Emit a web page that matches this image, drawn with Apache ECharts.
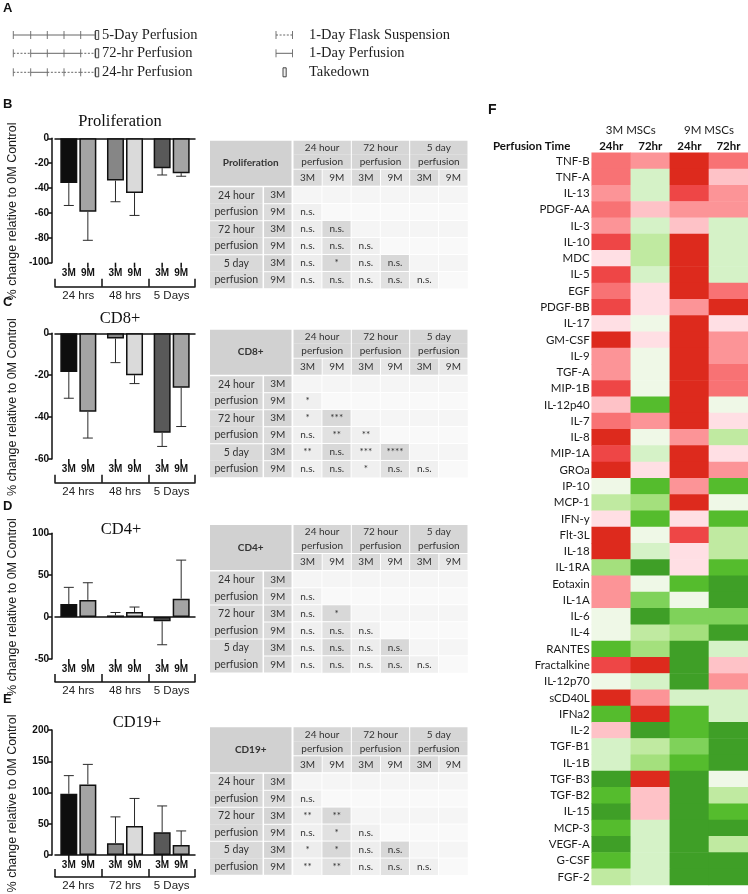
<!DOCTYPE html>
<html>
<head>
<meta charset="utf-8">
<title>Perfusion figure</title>
<script src="https://cdn.jsdelivr.net/npm/echarts@6/dist/echarts.min.js"></script>
<style>
html,body{margin:0;padding:0;background:#ffffff;}
#chart{width:748px;height:894px;}
</style>
</head>
<body>
<div id="chart"></div>
<script>
// ---------------- DATA ----------------
const groupLabels48 = ['24 hrs', '48 hrs', '5 Days'];
const groupLabels72 = ['24 hrs', '72 hrs', '5 Days'];
const ageLabels = ['3M', '9M'];

const prolif3M   = [-36, -34, -24];
const prolif3MSD = [18, 17, 5.5];
const prolif9M   = [-59, -44, -28];
const prolif9MSD = [23, 18, 2.5];

const cd8_3M   = [-18.5, -2.5, -47.5];
const cd8_3MSD = [12.5, 11.5, 6.5];
const cd8_9M   = [-37.5, -20, -26];
const cd8_9MSD = [12.5, 4, 18.5];

const cd4_3M   = [15.5, 2, -5];
const cd4_3MSD = [20, 3.5, 28];
const cd4_9M   = [20.5, 6, 22];
const cd4_9MSD = [20.5, 6, 46];

const cd19_3M   = [98, 19, 36.5];
const cd19_3MSD = [29, 42, 42];
const cd19_9M   = [113, 46.5, 16];
const cd19_9MSD = [32, 44, 22.5];

// significance tables (rows/cols: 24h-3M, 24h-9M, 72h-3M, 72h-9M, 5d-3M, 5d-9M)
const tableRowLabels = ['3M', '9M', '3M', '9M', '3M', '9M'];
const tableGroupLabels = ['24 hour\nperfusion', '72 hour\nperfusion', '5 day\nperfusion'];
const sigProlif = [
  ['', '', '', '', '', ''],
  ['n.s.', '', '', '', '', ''],
  ['n.s.', 'n.s.', '', '', '', ''],
  ['n.s.', 'n.s.', 'n.s.', '', '', ''],
  ['n.s.', '*', 'n.s.', 'n.s.', '', ''],
  ['n.s.', 'n.s.', 'n.s.', 'n.s.', 'n.s.', '']
];
const sigCD8 = [
  ['', '', '', '', '', ''],
  ['*', '', '', '', '', ''],
  ['*', '***', '', '', '', ''],
  ['n.s.', '**', '**', '', '', ''],
  ['**', 'n.s.', '***', '****', '', ''],
  ['n.s.', 'n.s.', '*', 'n.s.', 'n.s.', '']
];
const sigCD4 = [
  ['', '', '', '', '', ''],
  ['n.s.', '', '', '', '', ''],
  ['n.s.', '*', '', '', '', ''],
  ['n.s.', 'n.s.', 'n.s.', '', '', ''],
  ['n.s.', 'n.s.', 'n.s.', 'n.s.', '', ''],
  ['n.s.', 'n.s.', 'n.s.', 'n.s.', 'n.s.', '']
];
const sigCD19 = [
  ['', '', '', '', '', ''],
  ['n.s.', '', '', '', '', ''],
  ['**', '**', '', '', '', ''],
  ['n.s.', '*', 'n.s.', '', '', ''],
  ['*', '*', 'n.s.', 'n.s.', '', ''],
  ['**', '**', 'n.s.', 'n.s.', 'n.s.', '']
];

// heatmap F (levels: +6 strong red ... 0 neutral ... -6 strong green)
const cytokines = ['TNF-B','TNF-A','IL-13','PDGF-AA','IL-3','IL-10','MDC','IL-5','EGF','PDGF-BB',
  'IL-17','GM-CSF','IL-9','TGF-A','MIP-1B','IL-12p40','IL-7','IL-8','MIP-1A','GROa',
  'IP-10','MCP-1','IFN-y','Flt-3L','IL-18','IL-1RA','Eotaxin','IL-1A','IL-6','IL-4',
  'RANTES','Fractalkine','IL-12p70','sCD40L','IFNa2','IL-2','TGF-B1','IL-1B','TGF-B3','TGF-B2',
  'IL-15','MCP-3','VEGF-A','G-CSF','FGF-2'];
const hm3M24 = [4,4,3,4,3,5,1,5,4,5, 1,6,3,3,5,2,4,6,5,6, 0,-2,1,6,6,-3,3,3,0,0, -5,5,0,6,-5,2,-1,-1,-6,-5, -6,-5,-6,-5,-2];
const hm3M72 = [3,-1,-1,2,-1,-2,-2,-1,1,1, 0,1,0,0,0,-5,3,0,-1,1, -5,-3,-5,0,-1,-6,0,-4,-6,-2, -3,6,-1,3,6,-6,-2,-3,6,2, 2,-1,-1,-1,-1];
const hm9M24 = [6,6,5,3,2,6,6,6,6,3, 6,6,6,6,6,6,6,3,6,6, 3,6,1,5,1,1,-5,0,-4,-3, -6,-6,-6,-1,-5,-5,-4,-5,-6,-6, -6,-6,-6,-6,-6];
const hm9M72 = [4,2,3,3,-1,-1,-1,-1,4,6, 1,3,3,4,4,0,1,-2,1,3, -5,0,-5,-2,-2,-5,-6,-6,-4,-6, -1,2,3,-1,-1,-6,-6,-6,0,-2, -5,-6,-2,-6,-6];
const hmColLabels = ['24hr', '72hr', '24hr', '72hr'];
const hmGroupLabels = ['3M MSCs', '9M MSCs'];

// panel A schematic
const scheduleLabels = ['5-Day Perfusion', '72-hr Perfusion', '24-hr Perfusion'];
const scheduleSegments = [['P','P','P','P','P'], ['F','P','P','P','F'], ['F','P','F','F','F']];
const legendLabels = ['1-Day Flask Suspension', '1-Day Perfusion', 'Takedown'];

// ---------------- STYLE ----------------
const SANS = '"Liberation Sans", Arial, sans-serif';
const CAL = 'Lato, "Open Sans", sans-serif';
const SERIF = '"Liberation Serif", "DejaVu Serif", serif';
const bar3MColors = ['#0e0e0e', '#868686', '#595959'];
const bar9MColors = ['#a4a4a4', '#dadada', '#a4a4a4'];
const hmPalette = {6:'#dd2a1d',5:'#ee4646',4:'#f87274',3:'#fc9497',2:'#fec2c7',1:'#ffdfe4',0:'#eff8e7',
  '-1':'#d5f2c7','-2':'#c0eaa1','-3':'#a4e07d','-4':'#7fd25a','-5':'#55bc2d','-6':'#3f9f27'};
const tableShade = {0:'#f5f5f5',1:'#ededed',2:'#d8d8d8',3:'#e1e1e1',4:'#f0f0f0',5:'#f9f9f9'};
const BAR_W = 17, BAR_GAP_RATIO = 0.12, BAR_OFF = (BAR_W + BAR_W * BAR_GAP_RATIO) / 2;

// ---------------- BUILD ----------------
const grid = [], xAxis = [], yAxis = [], series = [], graphic = [];
function addGrid(g) { grid.push(Object.assign({outerBoundsMode: 'none', containLabel: false}, g)); return grid.length - 1; }
function push(arr, o) { arr.push(o); return arr.length - 1; }

const panels = [
  {letter:'B', letterY:104, title:'Proliferation', titleX:120, titleY:122, groups:groupLabels48,
   m3:prolif3M, s3:prolif3MSD, m9:prolif9M, s9:prolif9MSD, min:-100, max:0, interval:20, top:138.3, bottom:262.7, brk:24},
  {letter:'C', letterY:302, title:'CD8+', titleX:120, titleY:318.5, groups:groupLabels48,
   m3:cd8_3M, s3:cd8_3MSD, m9:cd8_9M, s9:cd8_9MSD, min:-60, max:0, interval:20, top:333.3, bottom:459, brk:23.7},
  {letter:'D', letterY:506, title:'CD4+', titleX:121, titleY:530, groups:groupLabels48,
   m3:cd4_3M, s3:cd4_3MSD, m9:cd4_9M, s9:cd4_9MSD, min:-50, max:100, interval:50, top:533.3, bottom:659, brk:23},
  {letter:'E', letterY:699, title:'CD19+', titleX:137, titleY:723, groups:groupLabels72,
   m3:cd19_3M, s3:cd19_3MSD, m9:cd19_9M, s9:cd19_9MSD, min:0, max:200, interval:50, top:730, bottom:855, brk:22}
];

function errRender(yMin) {
  return function (params, api) {
    const cat = api.value(0), m = api.value(1), e = api.value(2), side = api.value(3);
    const p0 = api.coord([cat, m]), p1 = api.coord([cat, e]), pb = api.coord([cat, yMin]);
    const x = p0[0] + side * BAR_OFF;
    const ls = {stroke: '#2a2a2a', lineWidth: 1};
    return {type: 'group', children: [
      {type: 'line', shape: {x1: x, y1: p0[1], x2: x, y2: p1[1]}, style: ls},
      {type: 'line', shape: {x1: x - 5, y1: p1[1], x2: x + 5, y2: p1[1]}, style: ls},
      {type: 'line', shape: {x1: x, y1: pb[1], x2: x, y2: pb[1] + 5}, style: {stroke: '#111', lineWidth: 1.5}}
    ]};
  };
}

panels.forEach(p => {
  const rect = {left: 55, width: 140, top: p.top, height: p.bottom - p.top};
  const g = addGrid(rect);
  const g2 = addGrid(rect);
  const yi = push(yAxis, {
    type: 'value', gridIndex: g, min: p.min, max: p.max, interval: p.interval, offset: 3,
    axisLine: {show: true, lineStyle: {color: '#111', width: 1.5}},
    axisTick: {show: true, length: 4, lineStyle: {color: '#111', width: 1.5}},
    axisLabel: {color: '#111', fontWeight: 'bold', fontSize: 10, fontFamily: SANS, margin: 3},
    splitLine: {show: false},
    name: '% change relative to 0M Control', nameLocation: 'middle', nameGap: 33, nameRotate: 90,
    nameMoveOverlap: false,
    nameTextStyle: {fontSize: 12.5, fontFamily: SANS, color: '#1a1a1a', padding: [0, 22, 0, 0]}
  });
  push(yAxis, {type: 'value', gridIndex: g2, show: false, min: 0, max: 1});
  const xZero = push(xAxis, {
    type: 'category', gridIndex: g, data: p.groups, position: 'top',
    axisLine: {show: true, onZero: true, lineStyle: {color: '#111', width: 1.5}},
    axisTick: {show: false}, axisLabel: {show: false}, splitLine: {show: false}
  });
  push(xAxis, {
    type: 'category', gridIndex: g, data: p.groups, position: 'bottom',
    axisLine: {show: false, onZero: false}, axisTick: {show: false}, splitLine: {show: false},
    axisLabel: {interval: 0, margin: 10.5, verticalAlign: 'middle', align: 'center',
      formatter: () => '{a|' + ageLabels[0] + '}{a|' + ageLabels[1] + '}',
      rich: {a: {width: BAR_OFF * 2, align: 'center', fontWeight: 'bold', fontSize: 10, fontFamily: SANS, color: '#111'}}}
  });
  push(xAxis, {
    type: 'category', gridIndex: g2, data: p.groups, position: 'bottom', offset: p.brk,
    axisLine: {show: true, onZero: false, lineStyle: {color: '#111', width: 1.5}},
    axisTick: {show: true, inside: true, length: 8, interval: 0, alignWithLabel: false, lineStyle: {color: '#111', width: 1.5}},
    axisLabel: {interval: 0, margin: 3, fontSize: 11.5, fontFamily: SANS, color: '#222'},
    splitLine: {show: false}
  });
  const common = {type: 'bar', xAxisIndex: xZero, yAxisIndex: yi, barWidth: BAR_W, barGap: (BAR_GAP_RATIO * 100) + '%',
    itemStyle: {borderColor: '#111', borderWidth: 1.5}, silent: true, emphasis: {disabled: true}};
  series.push(Object.assign({}, common, {name: '3M', data: p.m3.map((v, i) => ({value: v, itemStyle: {color: bar3MColors[i]}}))}));
  series.push(Object.assign({}, common, {name: '9M', data: p.m9.map((v, i) => ({value: v, itemStyle: {color: bar9MColors[i]}}))}));
  const errData = p.m3.map((v, i) => [i, v, v + Math.sign(v) * p.s3[i], -1])
    .concat(p.m9.map((v, i) => [i, v, v + Math.sign(v) * p.s9[i], 1]));
  series.push({type: 'custom', xAxisIndex: xZero, yAxisIndex: yi, clip: false, silent: true, z: 3,
    encode: {x: 0, y: 1}, data: errData, renderItem: errRender(p.min)});
  graphic.push({type: 'text', x: 3, y: p.letterY, style: {text: p.letter, font: 'bold 13px ' + SANS, fill: '#111', verticalAlign: 'middle'}});
  graphic.push({type: 'text', x: p.titleX, y: p.titleY, style: {text: p.title, font: '16.5px ' + SERIF, fill: '#111', align: 'center', verticalAlign: 'middle'}});
});

// ---- significance tables ----
const tables = [
  {name: 'Proliferation', sig: sigProlif, dataTop: 186.7},
  {name: 'CD8+', sig: sigCD8, dataTop: 375.7},
  {name: 'CD4+', sig: sigCD4, dataTop: 571},
  {name: 'CD19+', sig: sigCD19, dataTop: 773.3}
];
const cellFont = {fontFamily: CAL, fontSize: 10, color: '#333333'};
function shadeCode(r, c, filled) {
  if (!filled) return r % 2 ? 5 : 0;
  if (c % 2) return r % 2 ? 3 : 2;
  return r % 2 ? 4 : 1;
}
const tableSeries = [];
tables.forEach(t => {
  const rect = {left: 293, width: 175, top: t.dataTop, height: 102};
  const g = addGrid(rect), g2 = addGrid(rect);
  const keys6 = tableRowLabels.map((_, i) => 'k' + i);
  const keys3 = tableGroupLabels.map((_, i) => 'g' + i);
  const xi = push(xAxis, {type: 'category', gridIndex: g, position: 'top', data: keys6,
    axisLine: {show: false}, axisTick: {show: false}, splitLine: {show: false},
    axisLabel: {interval: 0, margin: 9, align: 'center', verticalAlign: 'middle',
      formatter: (v, i) => '{' + (i % 2 ? 'b' : 'a') + '|' + tableRowLabels[i] + '}',
      rich: {a: Object.assign({width: 28.2, height: 16, lineHeight: 16, align: 'center', verticalAlign: 'middle', backgroundColor: '#d9d9d9'}, cellFont),
             b: Object.assign({width: 28.2, height: 16, lineHeight: 16, align: 'center', verticalAlign: 'middle', backgroundColor: '#e7e7e7'}, cellFont)}}});
  const yi = push(yAxis, {type: 'category', gridIndex: g, inverse: true, data: keys6,
    axisLine: {show: false}, axisTick: {show: false}, splitLine: {show: false},
    axisLabel: {interval: 0, margin: 15.2, align: 'center', verticalAlign: 'middle',
      formatter: (v, i) => '{' + (i % 2 ? 'b' : 'a') + '|' + tableRowLabels[i] + '}',
      rich: {a: Object.assign({width: 27.5, height: 16, lineHeight: 16, align: 'center', verticalAlign: 'middle', backgroundColor: '#d5d5d5'}, cellFont),
             b: Object.assign({width: 27.5, height: 16, lineHeight: 16, align: 'center', verticalAlign: 'middle', backgroundColor: '#dcdcdc'}, cellFont)}}});
  push(xAxis, {type: 'category', gridIndex: g2, position: 'top', data: keys3,
    axisLine: {show: false}, axisTick: {show: false}, splitLine: {show: false},
    axisLabel: {interval: 0, margin: 32, align: 'center', verticalAlign: 'middle',
      formatter: (v, i) => tableGroupLabels[i].split('\n').map(s => '{h|' + s + '}').join('\n'),
      rich: {h: Object.assign({width: 57.3, height: 14, lineHeight: 14, align: 'center', verticalAlign: 'middle', backgroundColor: '#d6d6d6'}, cellFont)}}});
  push(yAxis, {type: 'category', gridIndex: g2, inverse: true, data: keys3,
    axisLine: {show: false}, axisTick: {show: false}, splitLine: {show: false},
    axisLabel: {interval: 0, margin: 56.7, align: 'center', verticalAlign: 'middle',
      formatter: (v, i) => tableGroupLabels[i].split('\n').map(s => '{h|' + s + '}').join('\n'),
      rich: {h: Object.assign({width: 52.5, height: 16.5, lineHeight: 16.5, align: 'center', verticalAlign: 'middle', backgroundColor: '#d9d9d9'}, cellFont, {fontSize: 10.5})}}});
  const data = [];
  for (let r = 0; r < 6; r++) for (let c = 0; c < 6; c++) data.push([c, r, shadeCode(r, c, t.sig[r][c] !== '')]);
  tableSeries.push(series.length);
  series.push({type: 'heatmap', xAxisIndex: xi, yAxisIndex: yi, data: data, silent: true, emphasis: {disabled: true},
    itemStyle: {borderColor: '#ffffff', borderWidth: 1},
    label: Object.assign({show: true, formatter: pp => t.sig[pp.data[1]][pp.data[0]]}, cellFont)});
  graphic.push({type: 'rect', shape: {x: 210, y: t.dataTop - 46, width: 81.5, height: 45}, style: {fill: '#d1d1d1'}});
  graphic.push({type: 'text', x: 250.7, y: t.dataTop - 23.5, style: {text: t.name, font: 'bold 10px ' + CAL, fill: '#333', align: 'center', verticalAlign: 'middle'}});
});

// ---- heatmap F ----
const hmRect = {left: 591.7, top: 152.7, width: 156.3, height: 732.3};
const gH = addGrid(hmRect), gH2 = addGrid(hmRect);
const hxi = push(xAxis, {type: 'category', gridIndex: gH, position: 'top', data: hmColLabels.map((_, i) => 'c' + i),
  axisLine: {show: false}, axisTick: {show: false}, splitLine: {show: false},
  axisLabel: {interval: 0, margin: 6.7, verticalAlign: 'middle', formatter: (v, i) => hmColLabels[i],
    fontFamily: CAL, fontSize: 11.5, fontWeight: 'bold', color: '#111'}});
const hyi = push(yAxis, {type: 'category', gridIndex: gH, inverse: true, data: cytokines,
  axisLine: {show: false}, axisTick: {show: false}, splitLine: {show: false},
  axisLabel: {interval: 0, margin: 2, fontFamily: CAL, fontSize: 11.5, color: '#1a1a1a'}});
push(xAxis, {type: 'category', gridIndex: gH2, position: 'top', data: hmGroupLabels,
  axisLine: {show: false}, axisTick: {show: false}, splitLine: {show: false},
  axisLabel: {interval: 0, margin: 22.7, verticalAlign: 'middle', fontFamily: CAL, fontSize: 11.5, color: '#1a1a1a'}});
push(yAxis, {type: 'value', gridIndex: gH2, show: false, min: 0, max: 1});
const hmCols = [hm3M24, hm3M72, hm9M24, hm9M72];
const hmData = [];
cytokines.forEach((name, r) => hmCols.forEach((col, c) => hmData.push([c, r, col[r]])));
const hmSeriesIndex = series.length;
series.push({type: 'heatmap', xAxisIndex: hxi, yAxisIndex: hyi, data: hmData, silent: true, emphasis: {disabled: true},
  itemStyle: {borderWidth: 0}});
graphic.push({type: 'text', x: 488, y: 110, style: {text: 'F', font: 'bold 14px ' + SANS, fill: '#111', verticalAlign: 'middle'}});
graphic.push({type: 'text', x: 493, y: 146, style: {text: 'Perfusion Time', font: 'bold 11.5px ' + CAL, fill: '#111', verticalAlign: 'middle'}});

// ---- panel A schematic ----
const aTickX = [13.3, 30.7, 47.3, 64, 80.7, 95];
const aRowY = [35, 53.3, 72.3];
graphic.push({type: 'text', x: 3, y: 8.5, style: {text: 'A', font: 'bold 13px ' + SANS, fill: '#111', verticalAlign: 'middle'}});
function hLine(x1, x2, y, dashed) {
  const st = {stroke: '#555', lineWidth: 0.9};
  if (dashed) st.lineDash = [2, 1.6];
  return {type: 'line', shape: {x1: x1, y1: y, x2: x2, y2: y}, style: st};
}
function vTick(x, y) { return {type: 'line', shape: {x1: x, y1: y - 4, x2: x, y2: y + 4}, style: {stroke: '#666', lineWidth: 0.9}}; }
function takedown(x, y) { return {type: 'rect', shape: {x: x, y: y - 4.5, width: 3.2, height: 9}, style: {fill: '#eeeeee', stroke: '#333', lineWidth: 0.9}}; }
scheduleSegments.forEach((segs, r) => {
  const y = aRowY[r];
  segs.forEach((s, k) => graphic.push(hLine(aTickX[k], aTickX[k + 1], y, s === 'F')));
  aTickX.forEach(x => graphic.push(vTick(x, y)));
  graphic.push(takedown(95.5, y));
  graphic.push({type: 'text', x: 102, y: y, style: {text: scheduleLabels[r], font: '14.5px ' + SERIF, fill: '#1e1e1e', verticalAlign: 'middle'}});
});
graphic.push(hLine(276, 292.5, aRowY[0], true), vTick(276, aRowY[0]), vTick(292.5, aRowY[0]));
graphic.push(hLine(276, 292.5, aRowY[1], false), vTick(276, aRowY[1]), vTick(292.5, aRowY[1]));
graphic.push(takedown(283, aRowY[2]));
legendLabels.forEach((l, r) => graphic.push({type: 'text', x: 309, y: aRowY[r], style: {text: l, font: '14.5px ' + SERIF, fill: '#1e1e1e', verticalAlign: 'middle'}}));

const option = {
  backgroundColor: '#ffffff',
  animation: false,
  textStyle: {fontFamily: SANS},
  grid: grid, xAxis: xAxis, yAxis: yAxis, series: series,
  visualMap: [
    {type: 'piecewise', show: false, seriesIndex: hmSeriesIndex, dimension: 2,
     pieces: Object.keys(hmPalette).map(k => ({value: Number(k), color: hmPalette[k]}))},
    {type: 'piecewise', show: false, seriesIndex: tableSeries, dimension: 2,
     pieces: Object.keys(tableShade).map(k => ({value: Number(k), color: tableShade[k]}))}
  ],
  graphic: graphic
};
const chart = echarts.init(document.getElementById('chart'));
chart.setOption(option);
</script>
</body>
</html>
